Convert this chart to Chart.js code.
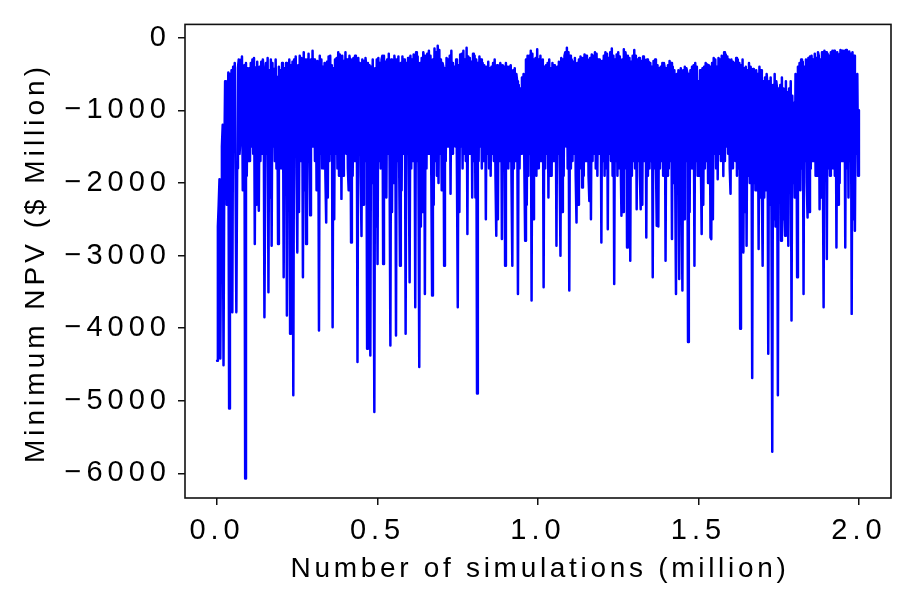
<!DOCTYPE html>
<html>
<head>
<meta charset="utf-8">
<script src="https://cdn.jsdelivr.net/npm/chart.js@4"></script>
<style>
  html, body { margin: 0; padding: 0; background: #fff; }
  #wrap { width: 913px; height: 609px; }
</style>
</head>
<body>
<div id="wrap"><canvas id="npvChart"></canvas></div>
<script>
// axis ticks (x in million simulations, y in $ million)
const xTickValues = [0, 0.5, 1.0, 1.5, 2.0];
const yTickValues = [0, -1000, -2000, -3000, -4000, -5000, -6000];

// one sample every 0.0025 million simulations
const stepMillion = 0.0025;

// minimum NPV per sample (each row = 0.1 million)
const minNpv = [
  -4450,-2600,-2300,-1950, -4420,-2400,-1500,-1200, -4510,-1700,-600,-720, -2300,-1200,-480,-5108, -500,-1600,-450,-3780, -400,-1500,-350,-1900, -3780,-1800,-420,-300, -1600,-1400,-300,-260, -2100,-1300,-380,-6070, -350,-1900,-420,-1700,
  -420,-1700,-350,-1500, -300,-1600,-280,-2843, -410,-2300,-330,-1800, -2385,-400,-1700,-330, -1600,-300,-420,-3850, -1900,-350,-1600,-280, -3507,-450,-2200,-300, -2866,-350,-1500,-430, -1700,-300,-1800,-540, -2843,-400,-1600,-450,
  -1800,-350,-400,-3300, -420,-1600,-350,-3827, -450,-1800,-300,-4078, -380,-1700,-330,-4925, -300,-1500,-260,-1900, -2957,-380,-2400,-250, -1700,-280,-350,-3300, -200,-2100,-300,-2843, -300,-1700,-220,-1600, -2444,-300,-1500,-180,
  -1500,-300,-1700,-350, -2100,-320,-380,-4033, -250,-1600,-300,-1800, -400,-1800,-350,-1900, -2545,-330,-2200,-260, -1700,-250,-1600,-380, -3987,-420,-2500,-300, -1600,-280,-1800,-200, -1900,-230,-300,-2220, -250,-1900,-320,-1500,
  -200,-1600,-300,-1800, -2100,-250,-350,-2820, -300,-1900,-280,-1700, -250,-1700,-300,-4468, -280,-1600,-350,-1900, -2730,-300,-2300,-320, -1700,-280,-400,-4285, -350,-1700,-380,-4376, -400,-2000,-300,-1900, -5154,-420,-2600,-300,
  -3117,-280,-1700,-350, -1800,-300,-250,-3117, -250,-1800,-330,-2200, -300,-1600,-220,-1700, -4238,-300,-2400,-350, -2000,-250,-400,-4101, -300,-1700,-260,-1800, -3140,-350,-2100,-260, -1600,-300,-330,-4078, -350,-1600,-280,-1900,
  -3370,-250,-1800,-300, -1700,-230,-300,-3712, -200,-1700,-260,-1800, -4536,-350,-2600,-280, -2400,-200,-300,-3529, -250,-1800,-220,-1600, -180,-1600,-250,-1900, -3552,-300,-2300,-150, -1700,-200,-1900,-110, -2000,-170,-1600,-300,
  -2100,-350,-400,-3140, -420,-1700,-280,-1500, -300,-1500,-250,-2150, -180,-1600,-350,-1400, -400,-1500,-300,-1900, -3712,-380,-2400,-230, -1500,-220,-1800,-180, -1600,-300,-1700,-140, -2705,-260,-1600,-280, -1500,-330,-2200,-220,
  -1700,-250,-2200,-300, -4902,-350,-1700,-260, -1500,-300,-1800,-350, -1700,-380,-450,-2500, -400,-1600,-330,-1800, -420,-1900,-400,-1600, -350,-1700,-300,-1900, -2728,-380,-2500,-420, -1700,-350,-420,-2774, -380,-1700,-400,-3140,
  -350,-1600,-400,-1800, -400,-1700,-380,-2000, -3140,-450,-1800,-420, -1700,-500,-600,-3529, -650,-1800,-700,-1600, -550,-1500,-500,-1800, -2797,-300,-2300,-250, -1900,-250,-1600,-180, -3620,-220,-2500,-300, -1700,-280,-1900,-160,
  -1800,-300,-1700,-250, -1700,-350,-300,-3438, -400,-1800,-380,-1600, -350,-2200,-300,-1900, -420,-1900,-350,-1700, -380,-1700,-420,-2866, -400,-1600,-330,-1800, -3003,-280,-2400,-300, -1900,-250,-200,-1500, -140,-1800,-200,-3483,
  -250,-1800,-300,-1700, -330,-1600,-280,-1900, -2545,-350,-2300,-300, -1800,-260,-300,-2065, -280,-1900,-230,-1700, -250,-1700,-300,-1900, -2248,-280,-2500,-230, -1700,-250,-1600,-200, -1800,-220,-1900,-300, -1600,-300,-350,-2820,
  -320,-1700,-250,-1900, -200,-1800,-220,-2637, -280,-1600,-200,-1700, -150,-1900,-250,-3392, -300,-1700,-230,-1900, -200,-1800,-260,-1600, -2454,-300,-2400,-160, -1800,-200,-300,-2889, -250,-2200,-280,-3071, -330,-1900,-250,-1700,
  -170,-1800,-250,-2362, -300,-1700,-280,-1900, -2362,-320,-2300,-260, -1700,-300,-350,-2751, -300,-1900,-330,-1800, -350,-1700,-400,-3300, -320,-1800,-300,-1700, -2590,-380,-2600,-420, -1800,-400,-1700,-350, -1900,-350,-420,-3071,
  -420,-1900,-380,-1800, -320,-1700,-350,-2774, -400,-2000,-450,-1900, -3529,-500,-2100,-450, -3323,-480,-420,-2000, -3483,-450,-2500,-400, -1700,-420,-480,-4193, -500,-2400,-450,-1800, -400,-1800,-380,-3140, -350,-1700,-400,-1900,
  -600,-1900,-450,-1700, -2705,-420,-2300,-400, -1800,-350,-1700,-370, -2000,-380,-400,-2751, -2774,-350,-2500,-280, -1600,-300,-1800,-400, -1950,-280,-1600,-300, -1700,-250,-300,-1905, -200,-1700,-230,-1500, -260,-1600,-300,-1800,
  -2150,-300,-1800,-330, -1600,-350,-1700,-280, -1900,-300,-1800,-350, -4010,-380,-2600,-300, -2957,-420,-2400,-400, -2866,-450,-1900,-350, -2000,-400,-500,-4688, -430,-2000,-480,-2100, -450,-2100,-500,-2911, -400,-2200,-450,-2000,
  -3140,-600,-2200,-550, -2100,-500,-650,-4353, -600,-2300,-550,-2400, -5703,-650,-2500,-500, -2600,-600,-700,-4925, -700,-2200,-650,-2797, -550,-2500,-700,-2400, -2728,-600,-2300,-750, -2866,-700,-2100,-600, -3895,-800,-2000,-900,
  -2200,-500,-600,-3300, -400,-1900,-350,-2100, -300,-1800,-330,-3529, -400,-1700,-300,-2000, -2476,-280,-2400,-260, -1800,-250,-1700,-300, -1700,-220,-1900,-280, -1900,-200,-250,-2362, -300,-2200,-200,-1600, -3712,-180,-1700,-200,
  -3048,-220,-1800,-250, -1900,-200,-1700,-180, -1800,-180,-1900,-200, -2889,-200,-2300,-230, -2000,-170,-1700,-180, -1700,-200,-180,-2889, -170,-1800,-200,-2200, -190,-1700,-220,-3804, -200,-2500,-250,-2660, -700,-1600,-500,-1900,
  -1000
];

const FONT = "'Liberation Sans', Arial, Helvetica, sans-serif";

// matplotlib-ish box around the plot, wide letter spacing, axis titles
const framePlugin = {
    id: 'frame',
    beforeLayout(chart) { chart.ctx.letterSpacing = '5px'; },
    beforeDraw(chart) { chart.ctx.letterSpacing = '5px'; },
    afterDraw(chart) {
        const ctx = chart.ctx;
        const a = chart.chartArea;
        ctx.save();
        ctx.strokeStyle = '#111';
        ctx.lineWidth = 1.6;
        ctx.strokeRect(a.left, a.top, a.right - a.left, a.bottom - a.top);

        ctx.fillStyle = '#000';
        ctx.font = '28px ' + FONT;
        ctx.letterSpacing = '3.7px';
        ctx.textAlign = 'center';
        ctx.textBaseline = 'alphabetic';
        ctx.fillText('Number of simulations (million)', (a.left + a.right) / 2 + 2, 577);

        ctx.letterSpacing = '4px';
        ctx.translate(44, 263);
        ctx.rotate(-Math.PI / 2);
        ctx.fillText('Minimum NPV ($ Million)', 0, 0);
        ctx.restore();
    }
};

const ctx = document.getElementById('npvChart');
const npvChart = new Chart(ctx, {
    type: 'line',
    data: {
        datasets: [{
            label: 'Minimum NPV',
            data: minNpv.map((v, i) => ({ x: i * stepMillion, y: v })),
            borderColor: '#0000ff',
            borderWidth: 2.5,
            borderJoinStyle: 'round',
            borderCapStyle: 'round',
            pointRadius: 0,
            tension: 0,
            fill: false
        }]
    },
    options: {
        responsive: true,
        maintainAspectRatio: false,
        animation: false,
        layout: { padding: { top: 23, right: 22, bottom: 0, left: 0 } },
        plugins: {
            legend: { display: false },
            tooltip: { enabled: false }
        },
        scales: {
            x: {
                type: 'linear',
                min: -0.1,
                max: 2.1,
                afterBuildTicks: (s) => { s.ticks = xTickValues.map(v => ({ value: v })); },
                afterFit: (s) => { s.height = 111; },
                grid: { drawOnChartArea: false, tickLength: 7, color: '#111', lineWidth: 1.5 },
                border: { display: false },
                ticks: {
                    font: { family: FONT, size: 29 },
                    color: '#000',
                    padding: 9,
                    maxRotation: 0,
                    autoSkip: false,
                    callback: (v) => Number(v).toFixed(1)
                }
            },
            y: {
                type: 'linear',
                min: -6340,
                max: 183,
                afterBuildTicks: (s) => { s.ticks = yTickValues.map(v => ({ value: v })); },
                afterFit: (s) => { s.width = 185; },
                grid: { drawOnChartArea: false, tickLength: 7, color: '#111', lineWidth: 1.5 },
                border: { display: false },
                ticks: {
                    font: { family: FONT, size: 29 },
                    color: '#000',
                    padding: 7,
                    autoSkip: false,
                    callback: (v) => v === 0 ? '0' : '\u2212' + Math.abs(v)
                }
            }
        }
    },
    plugins: [framePlugin]
});
</script>
</body>
</html>
